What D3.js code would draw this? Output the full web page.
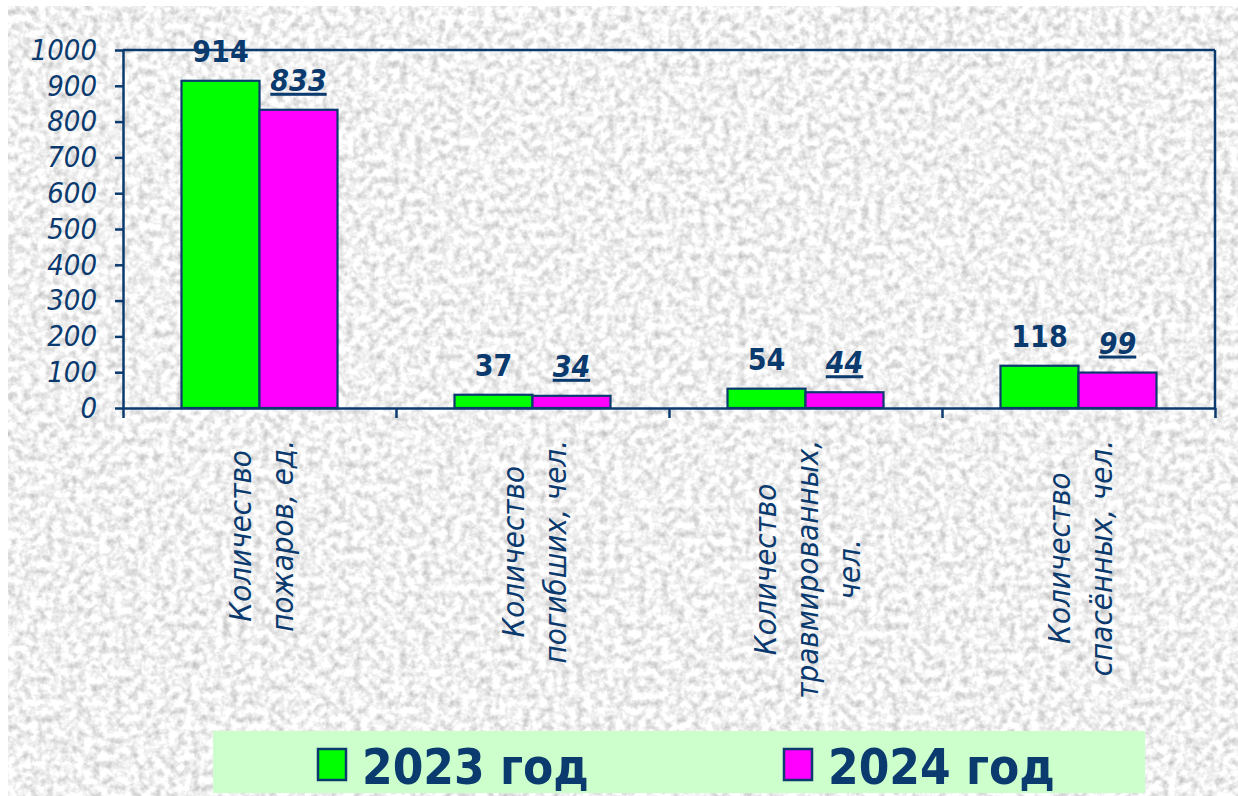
<!DOCTYPE html>
<html><head><meta charset="utf-8">
<script src="https://cdn.jsdelivr.net/npm/d3@7"></script>
<style>
html,body{margin:0;padding:0;background:#fff;}
svg{display:block;}
</style></head>
<body>
<svg id="chart" width="1238" height="796"></svg>
<script>
const categories = [
  ["Количество", "пожаров, ед."],
  ["Количество", "погибших, чел."],
  ["Количество", "травмированных,", "чел."],
  ["Количество", "спасённых, чел."]
];
const seriesNames = ["2023 год", "2024 год"];
const values2023 = [914, 37, 54, 118];
const values2024 = [833, 34, 44, 99];
const yTicks = [0,100,200,300,400,500,600,700,800,900,1000];

const navy = "#0a3a6e";
const colors = ["#00ff00", "#ff00ff"];
const fontFam = "'DejaVu Sans Condensed','DejaVu Sans',Tahoma,sans-serif";

const svg = d3.select("#chart");
const defs = svg.append("defs");
const f = defs.append("filter").attr("id","tex").attr("x",0).attr("y",0).attr("width",1).attr("height",1)
  .attr("color-interpolation-filters","sRGB");
f.append("feTurbulence").attr("type","fractalNoise").attr("baseFrequency","0.13").attr("numOctaves",3).attr("seed",5);
f.append("feColorMatrix").attr("type","matrix")
  .attr("values","0.45 0 0 0 0.72  0.45 0 0 0 0.72  0.45 0 0 0 0.72  0 0 0 0 1");

svg.append("rect").attr("x",8).attr("y",6).attr("width",1230).attr("height",790)
  .attr("fill","#efefef").attr("filter","url(#tex)");

const L = 123, R = 1215, T = 50, B = 408;
const x = d3.scaleBand().domain(d3.range(categories.length)).range([L, R]);
const xs = d3.scaleBand().domain([0,1]).range([0, 156]);
const y = d3.scaleLinear().domain([0, 1000]).range([B, T]);

// bars
const series = [values2023, values2024];
series.forEach((vals, si) => {
  svg.append("g").selectAll("rect").data(vals).join("rect")
    .attr("x", (d,i) => x(i) + x.bandwidth()/2 - 78 + xs(si))
    .attr("y", d => y(d))
    .attr("width", xs.bandwidth())
    .attr("height", d => B - y(d))
    .attr("fill", colors[si])
    .attr("stroke", navy).attr("stroke-width", 2.2);
});

// frame
svg.append("line").attr("x1",L).attr("x2",R).attr("y1",T).attr("y2",T).attr("stroke",navy).attr("stroke-width",2.5);
svg.append("line").attr("x1",R).attr("x2",R).attr("y1",T).attr("y2",B).attr("stroke",navy).attr("stroke-width",2.5);

// y axis
const yAxis = svg.append("g").attr("transform",`translate(${L},0)`)
  .call(d3.axisLeft(y).tickValues(yTicks).tickFormat(d3.format("d")).tickSize(8).tickPadding(18).tickSizeOuter(0));
yAxis.select(".domain").attr("stroke",navy).attr("stroke-width",2.5);
yAxis.selectAll(".tick line").attr("stroke",navy).attr("stroke-width",2.5);
yAxis.selectAll(".tick text").attr("fill",navy).attr("font-family",fontFam)
  .attr("font-size",29).attr("font-style","italic");

// x axis (ticks at category boundaries)
const xAxisScale = d3.scaleLinear().domain([0, categories.length]).range([L, R]);
const xAxis = svg.append("g").attr("transform",`translate(0,${B})`)
  .call(d3.axisBottom(xAxisScale).tickValues(d3.range(categories.length+1)).tickSize(10).tickFormat("").tickSizeOuter(0));
xAxis.select(".domain").attr("stroke",navy).attr("stroke-width",2.5);
xAxis.selectAll(".tick line").attr("stroke",navy).attr("stroke-width",2.5);

// value labels
series.forEach((vals, si) => {
  svg.append("g").selectAll("text").data(vals).join("text")
    .attr("x", (d,i) => x(i) + x.bandwidth()/2 - 78 + xs(si) + xs.bandwidth()/2)
    .attr("y", d => y(d) - 19)
    .attr("text-anchor","middle")
    .attr("font-family",fontFam).attr("font-size",30).attr("font-weight","bold")
    .attr("font-style", si === 1 ? "italic" : "normal")
    .attr("text-decoration", si === 1 ? "underline" : "none")
    .attr("fill", navy)
    .text(d => d);
});

// category labels (rotated)
const lineGap = 42, topY = 440;
categories.forEach((lines, ci) => {
  const cx = x(ci) + x.bandwidth()/2;
  const g = svg.append("g");
  const texts = lines.map((ln, li) => g.append("text")
    .attr("font-family",fontFam).attr("font-size",31).attr("font-style","italic")
    .attr("fill",navy).attr("text-anchor","middle").text(ln));
  const maxLen = d3.max(texts, t => t.node().getComputedTextLength());
  const cy = topY + maxLen/2;
  texts.forEach((t, li) => {
    const bx = cx - (lines.length-1)*lineGap/2 + li*lineGap + 12;
    t.attr("transform", `translate(${bx},${cy}) rotate(-90)`);
  });
});

// legend
svg.append("rect").attr("x",213).attr("y",731).attr("width",932).attr("height",62).attr("fill","#ccffcc");
const legX = [318, 784];
seriesNames.forEach((name, si) => {
  svg.append("rect").attr("x",legX[si]).attr("y",749).attr("width",28).attr("height",31)
    .attr("fill",colors[si]).attr("stroke",navy).attr("stroke-width",2.5);
  svg.append("text").attr("x",legX[si]+44).attr("y",784)
    .attr("font-family",fontFam).attr("font-size",49).attr("font-weight","bold")
    .attr("fill",navy).text(name);
});
</script>
</body></html>
